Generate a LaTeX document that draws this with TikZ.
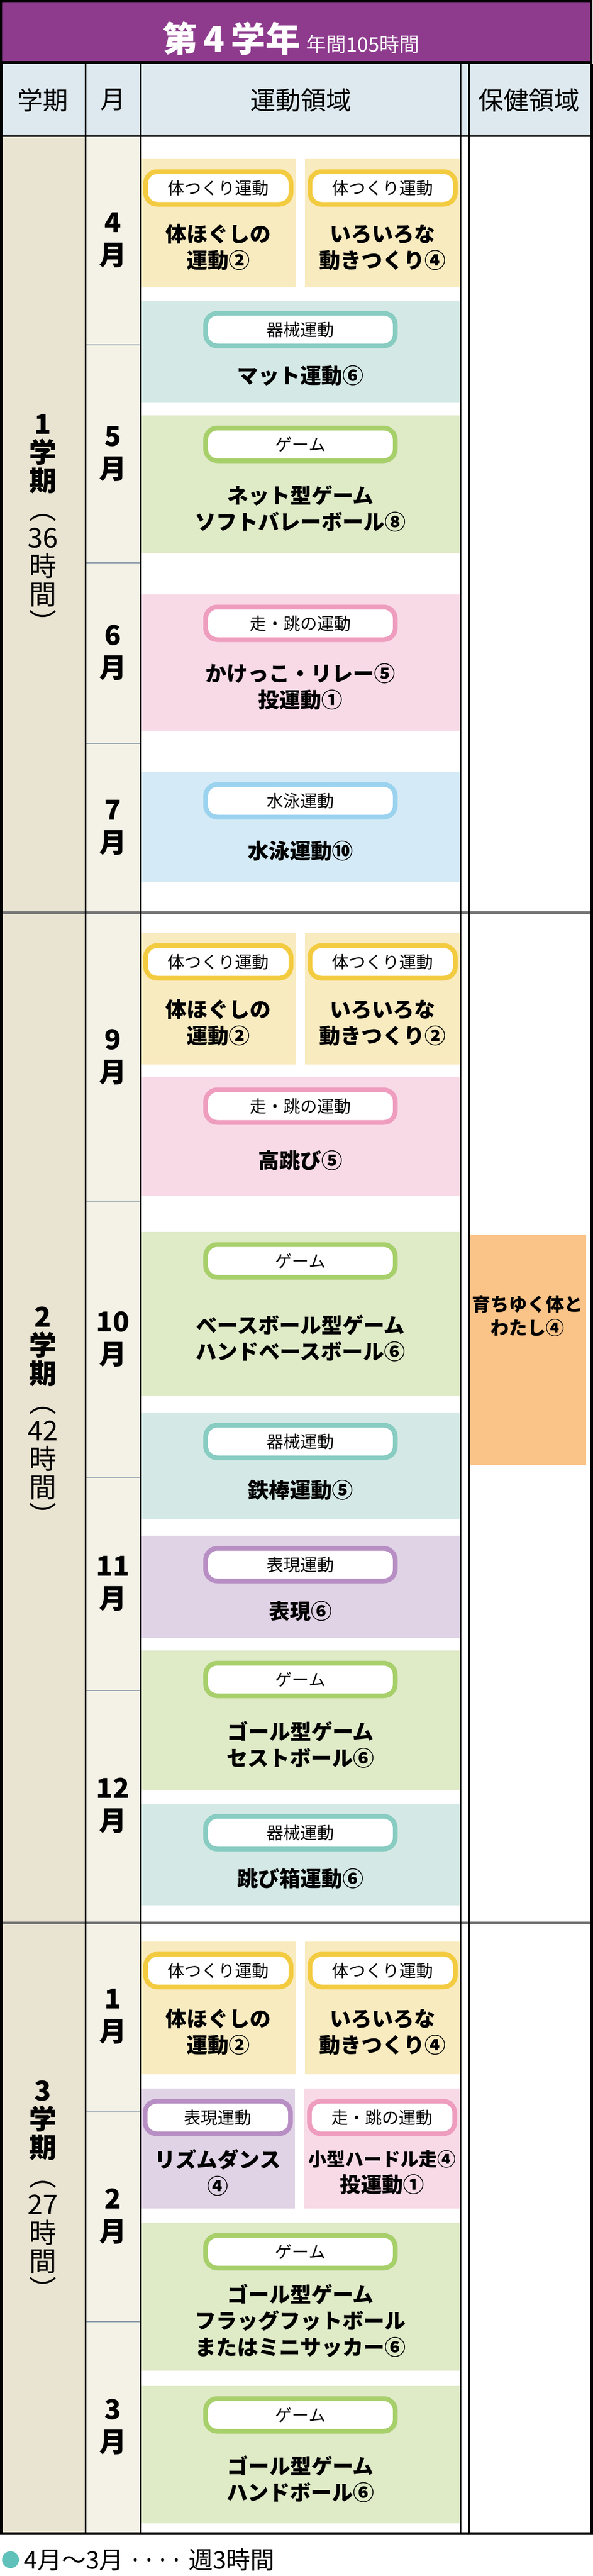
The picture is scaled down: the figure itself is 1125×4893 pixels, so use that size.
\documentclass[tikz,border=0pt]{standalone}
\usepackage{fontspec}
\setmainfont{Noto Sans CJK JP}
\usetikzlibrary{positioning}
\definecolor{titlepurple}{HTML}{8E3B8E}
\definecolor{headblue}{HTML}{DDE9EE}
\definecolor{termcol}{HTML}{E9E3D2}
\definecolor{monthcol}{HTML}{F4F2E7}
\definecolor{yelF}{HTML}{F9EBC0}\definecolor{yelB}{HTML}{F3CB40}
\definecolor{teaF}{HTML}{D4E9E5}\definecolor{teaB}{HTML}{88CCC2}
\definecolor{greF}{HTML}{DFEAC7}\definecolor{greB}{HTML}{A7CF6A}
\definecolor{pinF}{HTML}{F8DAE6}\definecolor{pinB}{HTML}{EE9DBE}
\definecolor{bluF}{HTML}{D4EAF6}\definecolor{bluB}{HTML}{9BD3EF}
\definecolor{purF}{HTML}{E1D3E6}\definecolor{purB}{HTML}{B88FC4}
\definecolor{healthF}{HTML}{FAC387}
\definecolor{sepgray}{HTML}{777777}
\definecolor{monthsep}{HTML}{8A9BA8}
\definecolor{dotteal}{HTML}{5FC1BA}
\tikzset{
  pill/.style={draw=#1, line width=9pt, fill=white, rounded corners=22pt, minimum height=62pt, inner sep=0pt, font=\fontsize{32}{36}\selectfont},
  bodytext/.style={align=center, font=\fontsize{40}{50}\selectfont\bfseries},
  monthtext/.style={align=center, font=\fontsize{52}{62}\selectfont\bfseries},
  termtext/.style={align=center, font=\fontsize{52}{54}\selectfont},
  headtext/.style={font=\fontsize{48}{52}\selectfont}
}
% panel: x1, y1, x2, y2, colour, pill label, pill width, body, name
\newcommand\panel[9]{%
  \fill[#5F] (#1,#2) rectangle (#3,#4);
  \node[pill=#5B, minimum width=#7pt] (#9p) at ({(#1+#3)/2},{#2+55}) {#6};
  \node[bodytext] (#9b) at ({(#1+#3)/2},{(#2+92+#4)/2}) {#8};
}
\begin{document}
\begin{tikzpicture}[x=1pt,y=1pt,yscale=-1]
\useasboundingbox (0,0) rectangle (1125,4893);

%title bar
\fill[black] (0,0) rectangle (1125,121);
\fill[titlepurple] (4,4) rectangle (1121,116);
\node[text=white, anchor=base] (title) at (440,98) {\fontsize{66}{70}\selectfont\bfseries 第\,4\,学年};
\node[text=white, anchor=base west] (titlesub) at (578,98) {\fontsize{38}{40}\selectfont 年間105時間};

%header
\fill[headblue] (2,121) rectangle (1123,258);
\fill[termcol] (2,258) rectangle (161,4812);
\fill[monthcol] (163,258) rectangle (267,4812);
\node[headtext] (hterm) at (81,190) {学期};
\node[headtext] (hmonth) at (214,190) {月};
\node[headtext] (hsport) at (571,190) {運動領域};
\node[headtext] (hhealth) at (1004,190) {保健領域};

%month separators
\foreach \y in {655,1069,1412,2283,2806,3211,4010,4410}
  \draw[monthsep, line width=2.5pt] (163,\y) -- (267,\y);
%term separators
\foreach \y in {1733,3652}
  \draw[sepgray, line width=5pt] (2,\y) -- (1123,\y);

%months
\node[monthtext] (m4) at (214,456) {4\\月};
\node[monthtext] (m5) at (214,862) {5\\月};
\node[monthtext] (m6) at (214,1240) {6\\月};
\node[monthtext] (m7) at (214,1572) {7\\月};
\node[monthtext] (m9) at (214,2008) {9\\月};
\node[monthtext] (m10) at (214,2544) {10\\月};
\node[monthtext] (m11) at (214,3008) {11\\月};
\node[monthtext] (m12) at (214,3430) {12\\月};
\node[monthtext] (m1) at (214,3830) {1\\月};
\node[monthtext] (m2) at (214,4210) {2\\月};
\node[monthtext] (m3) at (214,4610) {3\\月};

%terms
\node[termtext] (t1) at (81,995) {\textbf{1}\\\textbf{学}\\\textbf{期}\\︵\\36\\時\\間\\︶};
\node[termtext] (t2) at (81,2690) {\textbf{2}\\\textbf{学}\\\textbf{期}\\︵\\42\\時\\間\\︶};
\node[termtext] (t3) at (81,4160) {\textbf{3}\\\textbf{学}\\\textbf{期}\\︵\\27\\時\\間\\︶};

%sport panels
\panel{267}{302}{562}{546}{yel}{体つくり運動}{276}{体ほぐしの\\運動②}{a1}
\panel{579}{302}{874}{546}{yel}{体つくり運動}{276}{いろいろな\\動きつくり④}{a2}
\panel{267}{571}{874}{764}{tea}{器械運動}{360}{マット運動⑥}{a3}
\panel{267}{789}{874}{1051}{gre}{ゲーム}{360}{ネット型ゲーム\\ソフトバレーボール⑧}{a4}
\panel{267}{1129}{874}{1388}{pin}{走・跳の運動}{360}{かけっこ・リレー⑤\\投運動①}{a5}
\panel{267}{1466}{874}{1675}{blu}{水泳運動}{360}{水泳運動⑩}{a6}
\panel{267}{1772}{562}{2022}{yel}{体つくり運動}{276}{体ほぐしの\\運動②}{b1}
\panel{579}{1772}{874}{2022}{yel}{体つくり運動}{276}{いろいろな\\動きつくり②}{b2}
\panel{267}{2046}{874}{2271}{pin}{走・跳の運動}{360}{高跳び⑤}{b3}
\panel{267}{2340}{874}{2652}{gre}{ゲーム}{360}{ベースボール型ゲーム\\ハンドベースボール⑥}{b4}
\panel{267}{2683}{874}{2886}{tea}{器械運動}{360}{鉄棒運動⑤}{b5}
\panel{267}{2917}{874}{3111}{pur}{表現運動}{360}{表現⑥}{b6}
\panel{267}{3135}{874}{3401}{gre}{ゲーム}{360}{ゴール型ゲーム\\セストボール⑥}{b7}
\panel{267}{3426}{874}{3619}{tea}{器械運動}{360}{跳び箱運動⑥}{b8}
\panel{267}{3688}{562}{3940}{yel}{体つくり運動}{276}{体ほぐしの\\運動②}{c1}
\panel{579}{3688}{874}{3940}{yel}{体つくり運動}{276}{いろいろな\\動きつくり④}{c2}
\panel{267}{3967}{560}{4195}{pur}{表現運動}{276}{リズムダンス\\④}{c3}
\panel{577}{3967}{874}{4195}{pin}{走・跳の運動}{276}{\fontsize{35}{44}\selectfont 小型ハードル走④\\投運動①}{c4}
\panel{267}{4222}{874}{4503}{gre}{ゲーム}{360}{ゴール型ゲーム\\フラッグフットボール\\またはミニサッカー⑥}{c5}
\panel{267}{4532}{874}{4793}{gre}{ゲーム}{360}{ゴール型ゲーム\\ハンドボール⑥}{c6}

%health
\fill[healthF] (890,2346) rectangle (1113,2783);
\node[bodytext, font=\fontsize{35}{45}\selectfont\bfseries] (h1) at (1001,2500) {育ちゆく体と\\わたし④};

%grid lines
\draw[line width=5pt] (2,121) -- (2,4812) -- (1123,4812) -- (1123,121);
\draw[line width=3pt] (2,258) -- (1123,258);
\foreach \x in {162,267,874,890}
  \draw[line width=3pt] (\x,121) -- (\x,4812);

%footer
\fill[dotteal] (20,4862) circle (16);
\node[anchor=west, font=\fontsize{46}{50}\selectfont] (foot) at (42,4862) {4月〜3月 ···· 週3時間};
\end{tikzpicture}
\end{document}
